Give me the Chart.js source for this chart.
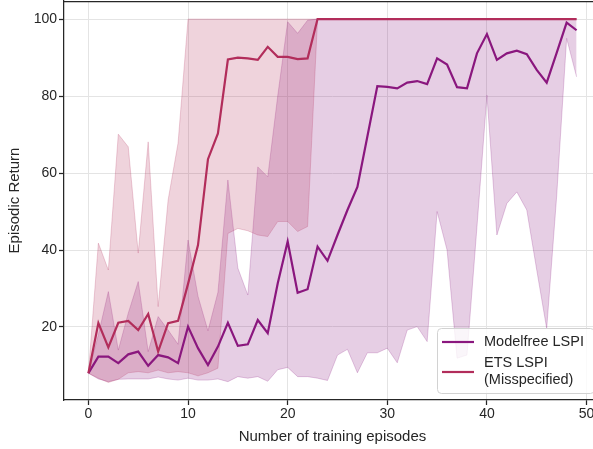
<!DOCTYPE html>
<html>
<head>
<meta charset="utf-8">
<script src="https://cdn.jsdelivr.net/npm/chart.js@4.4.0/dist/chart.umd.min.js"></script>
<style>
  html, body { margin: 0; padding: 0; overflow: hidden; background: #ffffff; }
  #wrap { position: relative; width: 601px; height: 449px; }
</style>
</head>
<body>
<div id="wrap"><canvas id="chart"></canvas></div>
<script>
// Training episodes on the x axis
const episodes = [0,1,2,3,4,5,6,7,8,9,10,11,12,13,14,15,16,17,18,19,20,21,22,23,24,
                  25,26,27,28,29,30,31,32,33,34,35,36,37,38,39,40,41,42,43,44,45,46,47,48,49];

// Modelfree LSPI: mean return and confidence band
const modelfreeMean = [8,12.3,12.3,10.6,12.9,13.6,9.9,12.7,12.1,10.6,20.1,14.5,10.1,14.9,21.1,15.1,15.5,21.8,18.4,31.3,
                       42.2,28.9,29.8,40.9,37.2,43.9,50.4,56.4,69.5,82.6,82.4,82.0,83.5,83.9,83.1,89.8,88.2,82.3,82.0,91.1,
                       96.1,89.4,91.1,91.8,90.9,86.8,83.5,91.2,99.1,97.1];
const modelfreeLower = [8,6.5,5.8,6.4,6.5,6.5,6.5,7,6.5,6.2,6.7,6.2,6.2,6.5,5.8,7.1,6.7,7.1,5.9,8.9,
                        9.5,7.1,7.1,6.7,6.1,12.7,14.2,8.1,13.3,13.3,14.5,10.7,19.2,20.1,16.2,50,40,11.9,12.7,46,
                        80.2,43.9,52.1,55.1,50.4,34.8,19.6,54,95,85];
const modelfreeUpper = [8,18,29.2,14,23.6,31.8,13.6,22.7,19.2,15.5,42.6,28,19,29,58.2,35.3,28.3,61.6,59,80,
                        99.3,96.3,99.7,100,100,100,100,100,100,100,100,100,100,100,100,100,100,100,100,100,
                        100,100,100,100,100,100,100,100,100,100];

// ETS LSPI (misspecified): mean return and confidence band
const etsMean = [8,21,14.7,21.1,21.6,19.2,23.4,13.6,21,21.6,31.2,41.3,63.6,70.3,89.5,90,89.8,89.4,92.8,90.2,
                 90.2,89.6,89.8,100,100,100,100,100,100,100,100,100,100,100,100,100,100,100,100,100,
                 100,100,100,100,100,100,100,100,100,100];
const etsLower = [8,6.7,5.6,6.4,8.1,8.4,8.1,8.8,8.1,8.4,8.1,7.3,8.1,9.3,44.3,45.6,45,43.9,43.5,47.4,
                  47.4,44.8,46.1,100,100,100,100,100,100,100,100,100,100,100,100,100,100,100,100,100,
                  100,100,100,100,100,100,100,100,100,100];
const etsUpper = [8,41.8,34.8,70.1,66.8,39.2,68.1,25.3,53,67.8,100,100,100,100,100,100,100,100,100,100,
                  100,100,100,100,100,100,100,100,100,100,100,100,100,100,100,100,100,100,100,100,
                  100,100,100,100,100,100,100,100,100,100];

// Axis ticks and legend text
const xTickValues = [0, 10, 20, 30, 40, 50];
const yTickValues = [20, 40, 60, 80, 100];
const legendLines = [['Modelfree LSPI'], ['ETS LSPI', '(Misspecified)']];

const PURPLE = '#8a177e';
const CRIMSON = '#b22d5b';
const TEXT = '#262626';
const FONT = "'Liberation Sans', Arial, sans-serif";

const pts = (vals) => episodes.map((e, i) => ({ x: e, y: vals[i] }));

function bandPair(lower, upper, rgb, order) {
  return [
    { data: pts(lower), borderColor: `rgba(${rgb},0.22)`, borderWidth: 1, pointRadius: 0,
      fill: false, tension: 0, order },
    { data: pts(upper), borderColor: `rgba(${rgb},0.22)`, borderWidth: 1, pointRadius: 0,
      fill: '-1', backgroundColor: `rgba(${rgb},0.21)`, tension: 0, order }
  ];
}

// Top spine and the legend box in the lower right corner
const frameAndLegend = {
  id: 'frameAndLegend',
  afterDatasetsDraw(chart) {
    const { ctx, chartArea: a } = chart;
    ctx.save();
    ctx.strokeStyle = TEXT;
    ctx.lineWidth = 1.25;
    ctx.beginPath();
    ctx.moveTo(a.left, a.top + 0.5);
    ctx.lineTo(a.right, a.top + 0.5);
    ctx.stroke();

    const w = 157, h = 65;
    const x0 = a.right - 7 - w, y0 = a.bottom - 7 - h;
    ctx.beginPath();
    ctx.roundRect(x0 + 0.5, y0 + 0.5, w, h, 4);
    ctx.fillStyle = 'rgba(255,255,255,0.8)';
    ctx.fill();
    ctx.strokeStyle = '#d2d2d2';
    ctx.lineWidth = 1;
    ctx.stroke();

    const colors = [PURPLE, CRIMSON];
    const sampleY = [y0 + 14, y0 + 44];
    const textY = [[y0 + 14], [y0 + 35, y0 + 52]];
    ctx.lineWidth = 2.2;
    ctx.font = `14.5px ${FONT}`;
    ctx.textBaseline = 'middle';
    ctx.textAlign = 'left';
    legendLines.forEach((lines, k) => {
      ctx.strokeStyle = colors[k];
      ctx.beginPath();
      ctx.moveTo(x0 + 5, sampleY[k]);
      ctx.lineTo(x0 + 37, sampleY[k]);
      ctx.stroke();
      ctx.fillStyle = TEXT;
      lines.forEach((t, j) => ctx.fillText(t, x0 + 47, textY[k][j]));
    });
    ctx.restore();
  }
};

new Chart(document.getElementById('chart'), {
  type: 'line',
  data: {
    datasets: [
      { label: legendLines[1].join(' '), data: pts(etsMean), borderColor: CRIMSON, borderWidth: 2.2,
        pointRadius: 0, fill: false, tension: 0, order: 0 },
      { label: legendLines[0][0], data: pts(modelfreeMean), borderColor: PURPLE, borderWidth: 2.2,
        pointRadius: 0, fill: false, tension: 0, order: 1 },
      ...bandPair(etsLower, etsUpper, '178,45,91', 2),
      ...bandPair(modelfreeLower, modelfreeUpper, '138,23,126', 3)
    ]
  },
  options: {
    responsive: true,
    maintainAspectRatio: false,
    animation: false,
    layout: { padding: { top: 1, right: 0, bottom: 0, left: 0 } },
    plugins: {
      legend: { display: false },
      tooltip: { enabled: false },
      filler: { propagate: false }
    },
    scales: {
      x: {
        type: 'linear',
        min: -2.45,
        max: 51.45,
        afterBuildTicks: (s) => { s.ticks = xTickValues.map(v => ({ value: v })); },
        afterFit: (s) => { s.height = 49; s.paddingLeft = 0; s.paddingRight = 0; },
        ticks: { color: TEXT, font: { family: FONT, size: 14 }, padding: 1, maxRotation: 0 },
        grid: { color: '#e4e4e4', lineWidth: 1, tickLength: 5, tickColor: TEXT, tickWidth: 1.25 },
        border: { color: TEXT, width: 1.25 },
        title: { display: true, text: 'Number of training episodes', color: TEXT,
                 font: { family: FONT, size: 15 }, padding: { top: 0, bottom: 3 } }
      },
      y: {
        type: 'linear',
        min: 1.03,
        max: 104.7,
        afterBuildTicks: (s) => { s.ticks = yTickValues.map(v => ({ value: v })); },
        afterFit: (s) => { s.width = 64; s.paddingTop = 0; s.paddingBottom = 0; },
        ticks: { color: TEXT, font: { family: FONT, size: 14 }, padding: 2 },
        grid: { color: '#e4e4e4', lineWidth: 1, tickLength: 5, tickColor: TEXT, tickWidth: 1.25 },
        border: { color: TEXT, width: 1.25 },
        title: { display: true, text: 'Episodic Return', color: TEXT,
                 font: { family: FONT, size: 15 }, padding: { top: 6, bottom: 0 } }
      }
    }
  },
  plugins: [frameAndLegend]
});
</script>
</body>
</html>
